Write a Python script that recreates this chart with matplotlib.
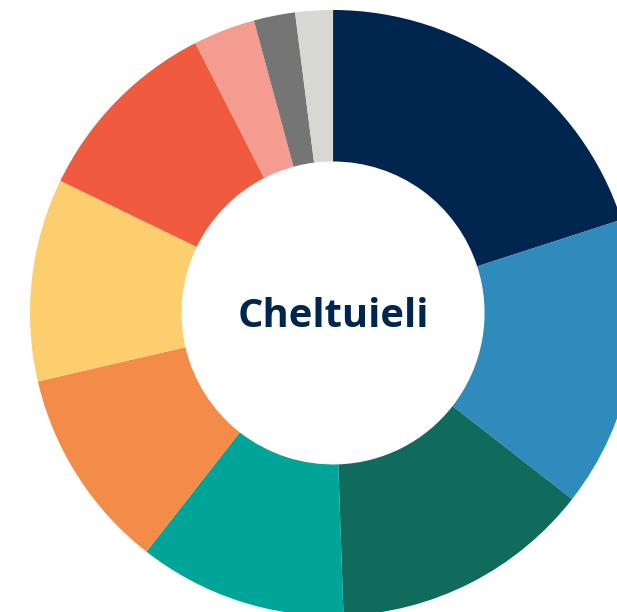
import matplotlib
matplotlib.use("Agg")
import matplotlib.pyplot as plt

# ── Data ──────────────────────────────────────────────────────────────────────
shares = [20.0, 15.5, 13.9, 11.1, 10.8, 10.8, 10.3, 3.3, 2.2, 2.0]
colors = ["#00264F", "#2E8BBB", "#106B5D", "#00A598", "#F28C48",
          "#FDCE6E", "#F05B40", "#F39C8F", "#757575", "#D8D8D3"]
center_label = "Cheltuieli"

# ── Figure ────────────────────────────────────────────────────────────────────
fig = plt.figure(figsize=(6.17, 6.12), dpi=100)
ax = fig.add_axes([0, 0, 1, 1])

ax.pie(shares, colors=colors, startangle=90, counterclock=False,
       radius=1.0, wedgeprops=dict(width=0.5, linewidth=0))

ax.text(0, -0.012, center_label, ha="center", va="center",
        fontsize=28.7, fontweight="bold", color="#00264F", family="Open Sans")

# donut is cropped by the figure edge on the right and bottom
ax.set_xlim(-1.099, 0.937)
ax.set_ylim(-0.987, 1.033)
ax.set_aspect("auto")
ax.axis("off")

fig.savefig("out.png", dpi=100, facecolor="white")
